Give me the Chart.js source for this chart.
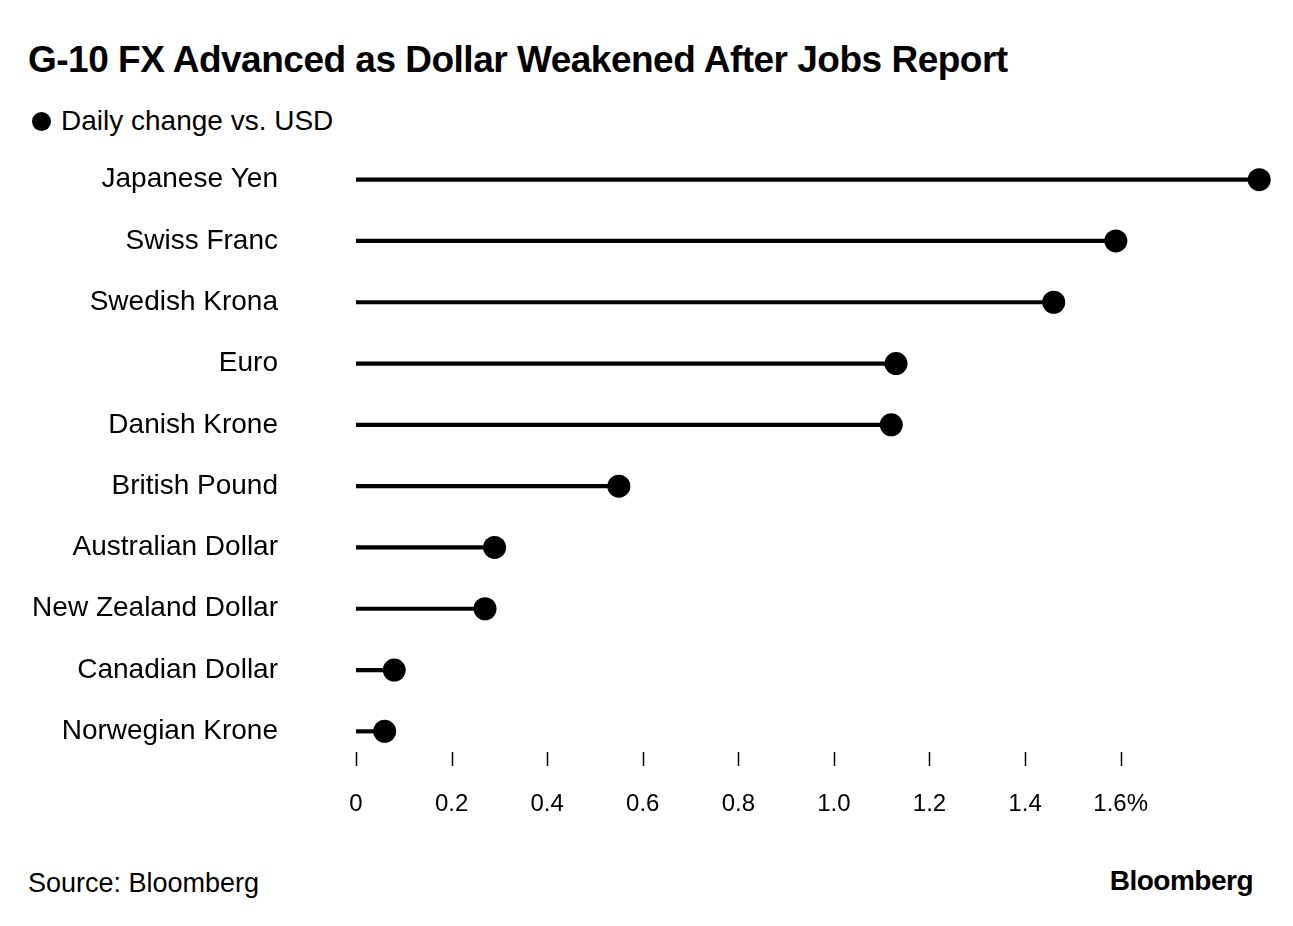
<!DOCTYPE html>
<html lang="en">
<head>
    <meta charset="UTF-8">
    <title>G-10 FX Advanced as Dollar Weakened After Jobs Report</title>
    <script src="https://cdn.jsdelivr.net/npm/chart.js"></script>
    <style>
        body {
    margin: 0;
    width: 1293px;
    height: 926px;
    background: #fff;
    font-family: "Liberation Sans", Arial, sans-serif;
    color: #000;
    position: relative;
    overflow: hidden;
}

.title {
    position: absolute;
    left: 28px;
    top: 39px;
    font-size: 37px;
    font-weight: bold;
    letter-spacing: -0.5px;
    white-space: nowrap;
}

.legend {
    position: absolute;
    left: 32px;
    top: 105px;
    font-size: 28px;
    white-space: nowrap;
}

.legend .dot {
    display: inline-block;
    width: 19px;
    height: 19px;
    border-radius: 50%;
    background: #000;
    margin-right: 10px;
    vertical-align: -1px;
}

#chartContainer {
    position: absolute;
    left: 0;
    top: 149px;
    width: 1293px;
    height: 700px;
}

.source {
    position: absolute;
    left: 28px;
    top: 868px;
    font-size: 27px;
}

.brand {
    position: absolute;
    right: 40px;
    top: 865px;
    font-size: 28px;
    font-weight: bold;
    letter-spacing: -0.5px;
}
    </style>
</head>
<body>

<div class="title">G-10 FX Advanced as Dollar Weakened After Jobs Report</div>
<div class="legend"><span class="dot"></span>Daily change vs. USD</div>

<div id="chartContainer">
    <canvas id="myChart" width="1293" height="700"></canvas>
</div>

<div class="source">Source: Bloomberg</div>
<div class="brand">Bloomberg</div>

<script>
    // Data (% change vs USD)
    const currencies = ['Japanese Yen', 'Swiss Franc', 'Swedish Krona', 'Euro', 'Danish Krone',
        'British Pound', 'Australian Dollar', 'New Zealand Dollar', 'Canadian Dollar', 'Norwegian Krone'];
    const dailyChange = [1.89, 1.59, 1.46, 1.13, 1.12, 0.55, 0.29, 0.27, 0.08, 0.06];

    // x axis ticks
    const tickValues = [0, 0.2, 0.4, 0.6, 0.8, 1.0, 1.2, 1.4, 1.6];
    const tickLabels = ['0', '0.2', '0.4', '0.6', '0.8', '1.0', '1.2', '1.4', '1.6%'];

    // small vertical tick marks floating under the plot
    const tickMarks = {
        id: 'tickMarks',
        afterDraw(chart) {
            const ctx = chart.ctx;
            const x = chart.scales.x;
            const bottom = chart.chartArea.bottom;
            ctx.save();
            ctx.strokeStyle = '#000';
            ctx.lineWidth = 1.5;
            tickValues.forEach(v => {
                const px = Math.round(x.getPixelForValue(v)) + 0.5;
                ctx.beginPath();
                ctx.moveTo(px, bottom - 10);
                ctx.lineTo(px, bottom + 4);
                ctx.stroke();
            });
            ctx.restore();
        }
    };

    const ctx = document.getElementById('myChart').getContext('2d');
    const myChart = new Chart(ctx, {
        type: 'bar',
        data: {
            labels: currencies,
            datasets: [{
                type: 'line',
                label: 'Daily change vs. USD',
                data: dailyChange,
                showLine: false,
                pointRadius: 11.5,
                pointHoverRadius: 11.5,
                pointBackgroundColor: '#000',
                pointBorderWidth: 0,
                clip: false
            }, {
                label: 'stem',
                data: dailyChange,
                backgroundColor: '#000',
                barThickness: 3.5,
                borderWidth: 0
            }]
        },
        plugins: [tickMarks],
        options: {
            indexAxis: 'y',
            responsive: false,
            animation: false,
            layout: { autoPadding: false, padding: { left: 0, right: 29, top: 0, bottom: 0 } },
            plugins: {
                legend: { display: false },
                tooltip: { enabled: false }
            },
            scales: {
                x: {
                    min: 0,
                    max: 1.9,
                    afterFit(scale) { scale.height = 87; },
                    afterBuildTicks(scale) {
                        scale.ticks = tickValues.map(v => ({ value: v }));
                    },
                    grid: { display: false, drawTicks: false },
                    border: { display: false },
                    ticks: {
                        padding: 28,
                        color: '#000',
                        maxRotation: 0,
                        autoSkip: false,
                        font: { family: '"Liberation Sans", Arial, sans-serif', size: 24 },
                        callback: (value, i) => tickLabels[i]
                    }
                },
                y: {
                    afterFit(scale) {
                        scale.width = 356;
                        // keep the big label gap from pushing the plot down
                        scale.paddingTop = 0;
                        scale.paddingBottom = 0;
                    },
                    grid: { display: false, drawTicks: false },
                    border: { display: false },
                    ticks: {
                        padding: 78,
                        color: '#000',
                        font: { family: '"Liberation Sans", Arial, sans-serif', size: 28 }
                    }
                }
            }
        }
    });
</script>

</body>
</html>
